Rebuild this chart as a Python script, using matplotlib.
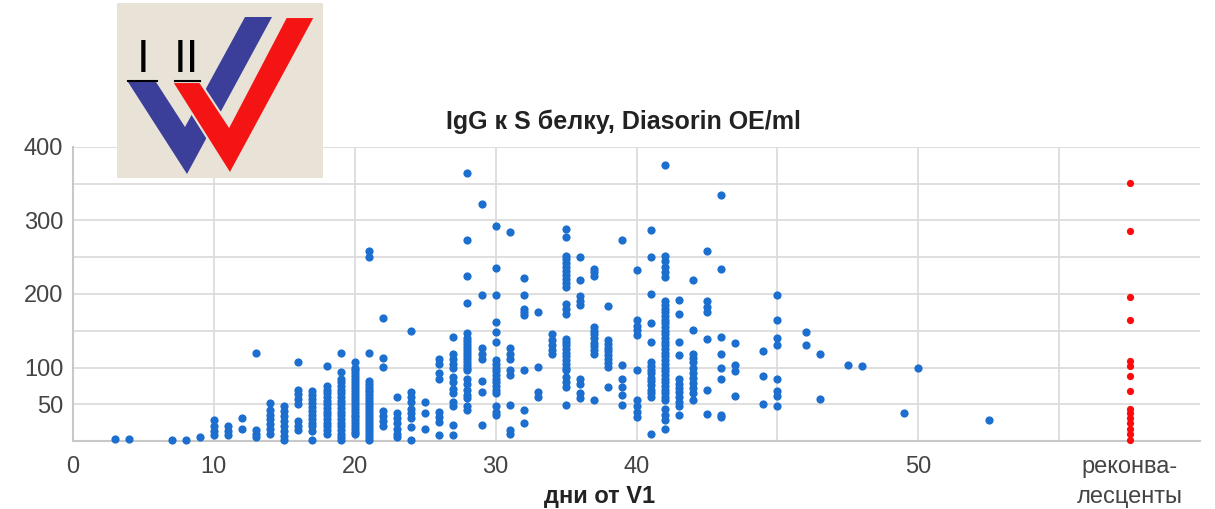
import matplotlib
matplotlib.use('Agg')
import matplotlib.pyplot as plt
from matplotlib.patches import Polygon

# days after first dose (position on the x scale) and IgG values for that day
vacc_days = [3, 4, 7, 8, 9, 10, 11, 12, 13, 14, 15, 16, 17, 18, 19, 20, 21, 22, 23, 24,
             25, 26, 27, 28, 29, 30, 31, 32, 33, 34, 35, 36, 37, 38, 39, 40, 41, 42, 43, 44,
             45, 46, 47, 49, 50, 52, 53, 55, 56, 59, 60, 65]
vacc_igg = [
    [3], [3], [2], [2], [5],
    [8, 14, 21, 28],
    [8, 14, 20],
    [17, 31],
    [5, 10, 15, 120],
    [9, 16, 23, 30, 36, 42, 52],
    [1, 7, 14, 20, 27, 34, 41, 48],
    [15, 20, 27, 50, 57, 64, 70, 108],
    [1, 14, 20, 25, 30, 35, 41, 46, 52, 57, 63, 68],
    [10, 15, 20, 25, 30, 35, 40, 45, 50, 55, 60, 65, 70, 75, 102],
    [2, 5, 10, 15, 20, 25, 30, 35, 40, 45, 50, 55, 60, 65, 70, 75, 80, 84, 94, 120],
    [9, 12, 16, 20, 24, 28, 32, 36, 40, 44, 48, 52, 56, 60, 64, 68, 72, 76, 80, 84,
     88, 92, 96, 100, 108],
    [2, 6, 10, 14, 18, 22, 26, 30, 34, 38, 42, 46, 50, 54, 58, 62, 66, 70, 74, 78,
     82, 120, 250, 258],
    [20, 27, 34, 41, 101, 113, 167],
    [5, 10, 17, 24, 31, 38, 60],
    [1, 19, 31, 38, 44, 53, 60, 67, 150],
    [16, 38, 53],
    [8, 26, 33, 40, 85, 92, 105, 112],
    [8, 22, 47, 53, 65, 71, 80, 87, 99, 105, 112, 119, 141],
    [42, 47, 58, 62, 69, 78, 85, 96, 100, 104, 108, 112, 116, 120, 124, 128, 132, 136,
     140, 147, 188, 225, 274, 364],
    [22, 66, 82, 112, 119, 126, 198, 323],
    [35, 40, 47, 65, 70, 75, 80, 85, 90, 95, 100, 105, 110, 135, 148, 162, 198, 236, 293],
    [10, 15, 49, 90, 96, 112, 119, 126, 285],
    [25, 42, 96, 171, 176, 180, 198, 222],
    [60, 67, 101, 176],
    [119, 124, 130, 137, 146],
    [49, 74, 80, 87, 96, 100, 105, 110, 115, 120, 125, 130, 135, 139, 173, 180, 187,
     209, 215, 220, 226, 231, 237, 242, 247, 252, 277, 289],
    [58, 65, 78, 85, 185, 191, 197, 219, 251],
    [56, 119, 124, 129, 134, 140, 145, 150, 155, 225, 230, 234],
    [74, 101, 106, 112, 117, 122, 127, 132, 137, 183],
    [49, 62, 74, 85, 103, 273],
    [33, 40, 47, 56, 96, 144, 151, 157, 164, 232],
    [10, 60, 65, 70, 76, 81, 86, 92, 96, 102, 108, 135, 161, 200, 250, 287],
    [17, 29, 35, 43, 56, 60, 65, 70, 75, 80, 85, 90, 95, 100, 105, 110, 115, 120, 125,
     130, 135, 140, 145, 150, 155, 160, 165, 170, 175, 180, 185, 191, 223, 230, 237,
     245, 252, 376],
    [35, 47, 53, 60, 66, 72, 78, 85, 117, 135, 173, 192],
    [56, 65, 72, 79, 86, 93, 100, 107, 113, 119, 151, 219],
    [37, 69, 139, 176, 182, 191, 259],
    [32, 36, 84, 100, 119, 141, 234, 335],
    [61, 95, 104, 133],
    [51, 88, 122],
    [47, 61, 68, 84, 131, 140, 164, 198],
    [130, 148],
    [57, 118],
    [104], [102], [38], [100], [29],
]

# convalescents, drawn in their own column
conv_pos = 75
conv_igg = [2, 10, 17, 24, 31, 38, 44, 68, 88, 102, 109, 164, 196, 286, 351]

x_ticks = [0, 10, 20, 30, 40, 50, 60, 70]
x_labels = ['0', '10', '20', '30', '40', '', '50', '']
y_ticks = [0, 50, 100, 150, 200, 250, 300, 350, 400]
y_labels = ['', '50', '100', '', '200', '', '300', '', '400']

plt.rcParams['font.family'] = ['Liberation Sans', 'DejaVu Sans']

W, H = 1215, 509
fig = plt.figure(figsize=(W / 100, H / 100), dpi=100)
ax = fig.add_axes([73 / W, 68 / H, 1127 / W, 294 / H])

xs, ys = [], []
for d, vals in zip(vacc_days, vacc_igg):
    xs += [d] * len(vals)
    ys += vals

ax.scatter(xs, ys, s=35, color='#1c6fcf', linewidths=0, zorder=3, clip_on=False)
ax.scatter([conv_pos] * len(conv_igg), conv_igg, s=27, color='#ff0a0a',
           linewidths=0, zorder=3, clip_on=False)

ax.set_xlim(0, 80)
ax.set_ylim(0, 400)
ax.set_xticks(x_ticks, labels=x_labels)
ax.set_xticks([conv_pos], labels=['реконва-\nлесценты'], minor=True)
ax.set_yticks(y_ticks, labels=y_labels)
for lab in ax.get_xticklabels(minor=True):
    lab.set_linespacing(1.45)
ax.grid(which='major', color='#dcdcdc', lw=1.3)
ax.set_axisbelow(True)
for s in ['top', 'right']:
    ax.spines[s].set_visible(False)
for s in ['left', 'bottom']:
    ax.spines[s].set_color('#c8c8c8')
    ax.spines[s].set_linewidth(1.5)
ax.tick_params(axis='both', which='both', length=0, labelsize=17, labelcolor='#444444')
ax.tick_params(axis='x', which='both', pad=11)
ax.tick_params(axis='y', pad=7)

fig.text(623 / W, 1 - 122 / H, 'IgG к S белку, Diasorin OE/ml', ha='center', va='center',
         fontsize=18, fontweight='bold', color='#222222')
fig.text(600 / W, 1 - 497 / H, 'дни от V1', ha='center', va='center',
         fontsize=17, fontweight='bold', color='#222222')

# logo in the top left corner
lg = fig.add_axes([117 / W, 1 - 178 / H, 206 / W, 175 / H])
lg.set_xlim(117, 323)
lg.set_ylim(178, 3)
lg.set_facecolor('#e9e3d7')
lg.set_xticks([])
lg.set_yticks([])
for s in lg.spines.values():
    s.set_visible(False)

blue_v = [(128, 82), (156, 82), (185, 127), (245, 17), (272, 17), (187, 174)]
red_v = [(172, 82), (200, 82), (229, 126), (286, 17), (315, 17), (230, 174)]
lg.add_patch(Polygon(blue_v, closed=True, facecolor='#3b3f99', edgecolor='none'))
lg.add_patch(Polygon(red_v, closed=True, facecolor='#f51414', edgecolor='#e9e3d7', lw=1.5))
lg.plot([128, 157], [81, 81], color='black', lw=1.5)
lg.plot([175, 200], [81, 81], color='black', lw=1.5)
lg.text(143, 72, 'I', ha='center', va='baseline', fontsize=33, color='black')
lg.text(186.5, 72, 'II', ha='center', va='baseline', fontsize=33, color='black')

fig.savefig('out.png', dpi=100, facecolor='white')
